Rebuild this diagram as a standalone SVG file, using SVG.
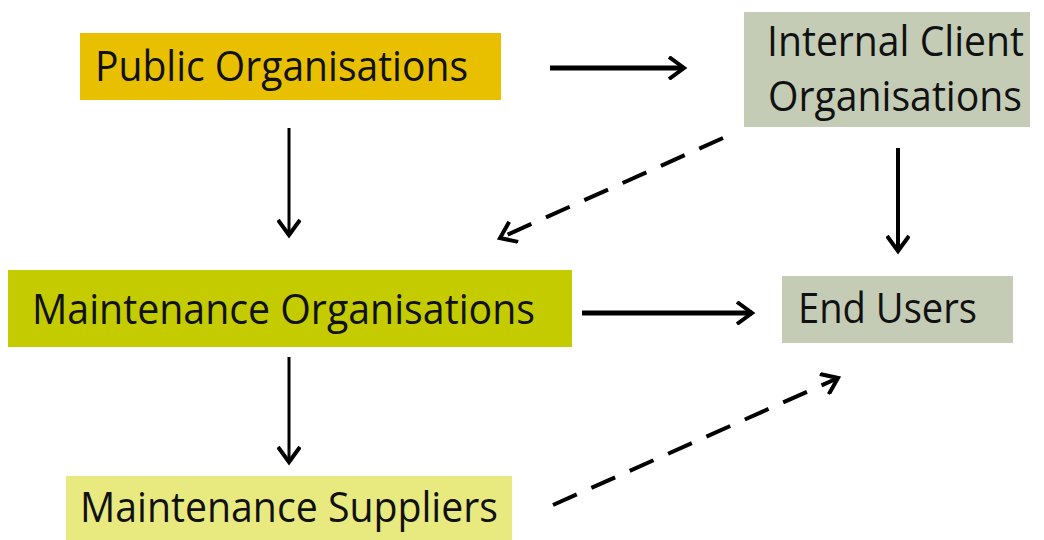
<svg xmlns="http://www.w3.org/2000/svg" width="1044" height="540" viewBox="0 0 1044 540">
<defs>
<style>
.lbl{font-family:"Open Sans","Noto Sans","Liberation Sans",sans-serif;font-size:42px;fill:#111;}
.c{fill:none;stroke:#000;stroke-width:4;}
.t{stroke-width:5;}
.d{stroke-dasharray:26 16;}
</style>
<marker id="ah" viewBox="0 0 24 24" refX="20" refY="12" markerWidth="24" markerHeight="24" markerUnits="userSpaceOnUse" orient="auto">
<path d="M5 1 L20 12 L5 23" fill="none" stroke="#000" stroke-width="4" stroke-linejoin="miter"/>
</marker>
</defs>
<rect width="1044" height="540" fill="#fff"/>
<g id="public">
<rect x="80" y="33" width="421" height="67" fill="#E8C000"/>
<text class="lbl" x="95" y="81" textLength="373" lengthAdjust="spacingAndGlyphs">Public Organisations</text>
</g>
<g id="internal">
<rect x="744" y="12" width="286" height="115" fill="#C4CCB6"/>
<text class="lbl" x="767" y="56" textLength="257" lengthAdjust="spacingAndGlyphs">Internal Client</text>
<text class="lbl" x="768" y="111" textLength="254" lengthAdjust="spacingAndGlyphs">Organisations</text>
</g>
<g id="maintenance">
<rect x="8" y="270" width="564" height="77" fill="#C4CC00"/>
<text class="lbl" x="32" y="324" textLength="503" lengthAdjust="spacingAndGlyphs">Maintenance Organisations</text>
</g>
<g id="endusers">
<rect x="782" y="276" width="231" height="67" fill="#C4CCB6"/>
<text class="lbl" x="798" y="323" textLength="179" lengthAdjust="spacingAndGlyphs">End Users</text>
</g>
<g id="suppliers">
<rect x="66" y="476" width="446" height="64" fill="#E8EA80"/>
<text class="lbl" x="80" y="522" textLength="418" lengthAdjust="spacingAndGlyphs">Maintenance Suppliers</text>
</g>
<g id="connectors">
<line class="c t" x1="550" y1="68" x2="684" y2="68" marker-end="url(#ah)"/>
<line class="c" x1="289" y1="128" x2="289" y2="235" marker-end="url(#ah)" style="stroke-width:3"/>
<line class="c d" x1="723" y1="138" x2="500" y2="238" marker-end="url(#ah)"/>
<line class="c" x1="898" y1="148" x2="898" y2="251" marker-end="url(#ah)"/>
<line class="c t" x1="582" y1="313" x2="752" y2="313" marker-end="url(#ah)"/>
<line class="c" x1="289" y1="357" x2="289" y2="462" marker-end="url(#ah)" style="stroke-width:3"/>
<line class="c d" x1="553" y1="505" x2="838" y2="378" marker-end="url(#ah)"/>
</g>
</svg>
